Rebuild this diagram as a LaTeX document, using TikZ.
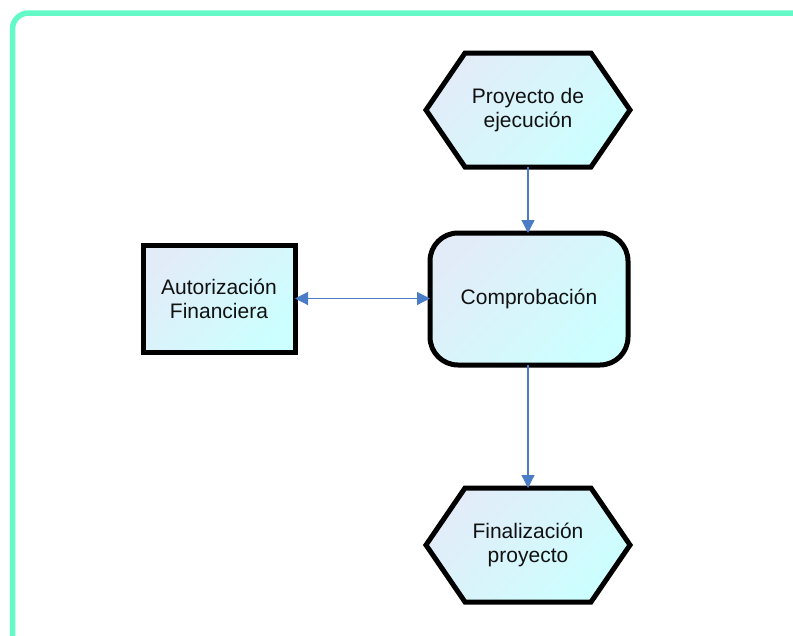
\documentclass[tikz,border=0pt]{standalone}
\usepackage{fontspec}
\setmainfont{Liberation Sans}
\usetikzlibrary{arrows.meta,backgrounds}
\definecolor{framegreen}{RGB}{100,250,200}
\definecolor{linkblue}{RGB}{74,124,200}
\definecolor{filla}{RGB}{226,236,248}
\definecolor{fillm}{RGB}{210,249,253}
\definecolor{fillb}{RGB}{204,255,255}
\definecolor{ink}{RGB}{17,17,17}
\tikzset{
  outline/.style={draw=black, line width=5pt, top color=filla, middle color=fillm,
    bottom color=fillb, shading angle=45},
  label/.style={align=center, inner sep=0pt, outer sep=0pt, text=ink,
    font=\fontsize{21}{24}\selectfont},
  box/.style={label, outline},
  hexbox/.style={label, minimum width=204pt, minimum height=114pt},
  roundbox/.style={box, rectangle, rounded corners=28pt,
    minimum width=198pt, minimum height=132pt},
  plainbox/.style={box, rectangle, minimum width=152pt, minimum height=107pt},
  link/.style={draw=linkblue, line width=1.2pt},
  tip/.style={-{Triangle[length=13pt,width=13pt]}}
}
% hexagonal outline round a node of style hexbox
\newcommand\hexoutline[1]{%
  \path[outline, line join=miter]
    (#1.west) -- ([xshift=39pt]#1.north west) -- ([xshift=-39pt]#1.north east)
    -- (#1.east) -- ([xshift=-39pt]#1.south east) -- ([xshift=39pt]#1.south west)
    -- cycle;}
\begin{document}
\begin{tikzpicture}[x=1pt,y=-1pt]
  \useasboundingbox (0,0) rectangle (793,635);
  \clip (0,0) rectangle (793,635);
  % outer frame, continuing past the right and bottom edges
  \draw[framegreen, line width=5.5pt, rounded corners=16pt] (12.5,13) rectangle (820,660);

  \node[hexbox] (proy) at (528,110) {Proyecto de\\ejecución};
  \node[roundbox] (comp) at (529,299) {Comprobación};
  \node[plainbox] (auto) at (219,298.5) {Autorización\\Financiera};
  \node[hexbox] (fin) at (528,545) {Finalización\\proyecto};

  \begin{pgfonlayer}{background}
    \hexoutline{proy}
    \hexoutline{fin}
  \end{pgfonlayer}

  \draw[link, tip] (proy.south) -- (proy.south |- comp.north);
  \draw[link, tip] (comp.south -| fin.north) -- (fin.north);
  \draw[link, {Triangle[length=13pt,width=13pt]}-{Triangle[length=13pt,width=13pt]}]
    (auto.east) -- (auto.east -| comp.west);
\end{tikzpicture}
\end{document}
